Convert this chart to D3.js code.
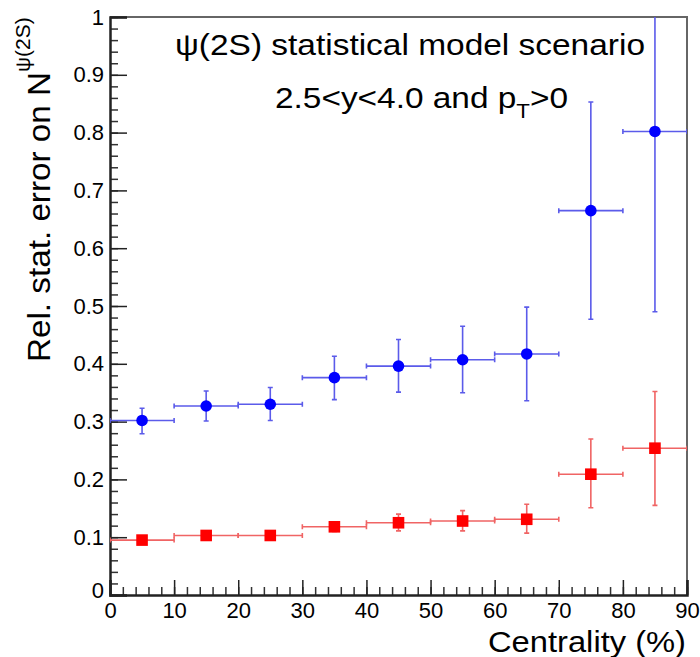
<!DOCTYPE html>
<html><head><meta charset="utf-8">
<script src="https://cdn.jsdelivr.net/npm/d3@7"></script>
<style>
html,body{margin:0;padding:0;background:#fff;}
svg text{font-family:"Liberation Sans",Arial,Helvetica,sans-serif;fill:#000;}
</style></head>
<body>
<script>
// ---- data ----
const centrality = [5,15,25,35,45,55,65,75,85];
const binHalfWidth = 5;
const psiStat = [0.302,0.327,0.330,0.376,0.396,0.407,0.417,0.665,0.802];
const psiStatLo = [0.279,0.301,0.302,0.338,0.351,0.350,0.336,0.477,0.490];
const psiStatHi = [0.323,0.353,0.359,0.413,0.442,0.465,0.498,0.853,1.05];
const psiRef = [0.095,0.103,0.103,0.118,0.125,0.128,0.131,0.209,0.254];
const psiRefLo = [0.091,0.099,0.099,0.110,0.111,0.111,0.107,0.151,0.155];
const psiRefHi = [0.099,0.107,0.107,0.126,0.140,0.146,0.157,0.270,0.352];
const xTicks = [0,10,20,30,40,50,60,70,80,90];
const yTicks = [0,0.1,0.2,0.3,0.4,0.5,0.6,0.7,0.8,0.9,1];

const W=700,H=657;
const m={left:110,right:13,top:17,bottom:62};
const svg=d3.select("body").append("svg").attr("width",W).attr("height",H);
const x=d3.scaleLinear().domain([0,90]).range([m.left,W-m.right]);
const y=d3.scaleLinear().domain([0,1]).range([H-m.bottom,m.top]);

svg.append("clipPath").attr("id","clip").append("rect")
  .attr("x",x(0)).attr("y",y(1)).attr("width",x(90)-x(0)).attr("height",y(0)-y(1));

// frame (top/right)
svg.append("path").attr("d",`M${x(0)},${y(1)}H${x(90)}V${y(0)}`)
  .attr("fill","none").attr("stroke","#666").attr("stroke-width",2);

// minor ticks
const minorX=d3.range(0,90.001,2);
const minorY=d3.range(0,1.0001,0.02);
svg.append("g").attr("transform",`translate(0,${y(0)})`)
  .call(d3.axisBottom(x).tickValues(minorX).tickSize(-8).tickFormat(""))
  .call(g=>{g.select(".domain").remove();g.selectAll("line").attr("stroke","#333").attr("stroke-width",1.5);});
svg.append("g").attr("transform",`translate(${x(0)},0)`)
  .call(d3.axisLeft(y).tickValues(minorY).tickSize(-8).tickFormat(""))
  .call(g=>{g.select(".domain").remove();g.selectAll("line").attr("stroke","#333").attr("stroke-width",1.5);});

// major axes
const xa=svg.append("g").attr("transform",`translate(0,${y(0)})`)
  .call(d3.axisBottom(x).tickValues(xTicks).tickSize(-15).tickPadding(7).tickFormat(d3.format("d")));
xa.select(".domain").attr("stroke","#222").attr("stroke-width",2.5);
xa.selectAll("line").attr("stroke","#222").attr("stroke-width",1.5);
xa.selectAll("text").attr("font-size",22).attr("dy","0.71em").style("font-family","'Liberation Sans',Arial,sans-serif");

const ya=svg.append("g").attr("transform",`translate(${x(0)},0)`)
  .call(d3.axisLeft(y).tickValues(yTicks).tickSize(-17).tickPadding(6)
    .tickFormat(d=>d===0?"0":d===1?"1":d.toFixed(1)));
ya.select(".domain").attr("stroke","#222").attr("stroke-width",2.5);
ya.selectAll("line").attr("stroke","#222").attr("stroke-width",1.5);
ya.selectAll("text").attr("font-size",22).style("font-family","'Liberation Sans',Arial,sans-serif");
ya.selectAll(".tick").filter(d=>d===0).select("text").attr("dy","0.1em");

// series
function drawSeries(vals,lo,hi,col,barCol,shape){
  const g=svg.append("g").attr("clip-path","url(#clip)");
  const pts=centrality.map((c,i)=>({c,v:vals[i],lo:lo[i],hi:hi[i]}));
  const cap=2.5;
  g.selectAll("path.eb").data(pts).join("path")
    .attr("d",d=>`M${x(d.c-binHalfWidth)},${y(d.v)}H${x(d.c+binHalfWidth)}`+
      `M${x(d.c-binHalfWidth)},${y(d.v)-cap}V${y(d.v)+cap}`+
      `M${x(d.c+binHalfWidth)},${y(d.v)-cap}V${y(d.v)+cap}`+
      `M${x(d.c)},${y(d.lo)}V${y(d.hi)}`+
      `M${x(d.c)-cap},${y(d.lo)}H${x(d.c)+cap}`+
      `M${x(d.c)-cap},${y(d.hi)}H${x(d.c)+cap}`)
    .attr("fill","none").attr("stroke",barCol).attr("stroke-width",1.6);
  if(shape==="circle"){
    g.selectAll("circle").data(pts).join("circle")
      .attr("cx",d=>x(d.c)).attr("cy",d=>y(d.v)).attr("r",5.8).attr("fill",col);
  } else {
    g.selectAll("rect.mk").data(pts).join("rect")
      .attr("x",d=>x(d.c)-5.8).attr("y",d=>y(d.v)-5.8).attr("width",11.6).attr("height",11.6).attr("fill",col);
  }
}
drawSeries(psiStat,psiStatLo,psiStatHi,"#0000ff","#5b5bea","circle");
drawSeries(psiRef,psiRefLo,psiRefHi,"#ff0000","#f06464","square");

// titles
svg.append("text").attr("x",175).attr("y",55).attr("font-size",30)
  .attr("textLength",470).attr("lengthAdjust","spacingAndGlyphs")
  .text("ψ(2S) statistical model scenario");
const t2=svg.append("text").attr("x",275).attr("y",108).attr("font-size",30)
  .attr("textLength",293).attr("lengthAdjust","spacingAndGlyphs");
t2.append("tspan").text("2.5<y<4.0 and p");
t2.append("tspan").attr("font-size",20).attr("dy",10).text("T");
t2.append("tspan").attr("dy",-10).text(">0");

// axis titles
svg.append("text").attr("x",686).attr("y",652).attr("text-anchor","end").attr("font-size",30)
  .attr("textLength",198).attr("lengthAdjust","spacingAndGlyphs")
  .text("Centrality (%)");
const yl=svg.append("text").attr("transform","translate(50,362) rotate(-90)").attr("font-size",31);
yl.append("tspan").attr("textLength",290).attr("lengthAdjust","spacingAndGlyphs").text("Rel. stat. error on N");
yl.append("tspan").attr("font-size",21).attr("dy",-20).text("ψ(2S)");
</script>
</body></html>
